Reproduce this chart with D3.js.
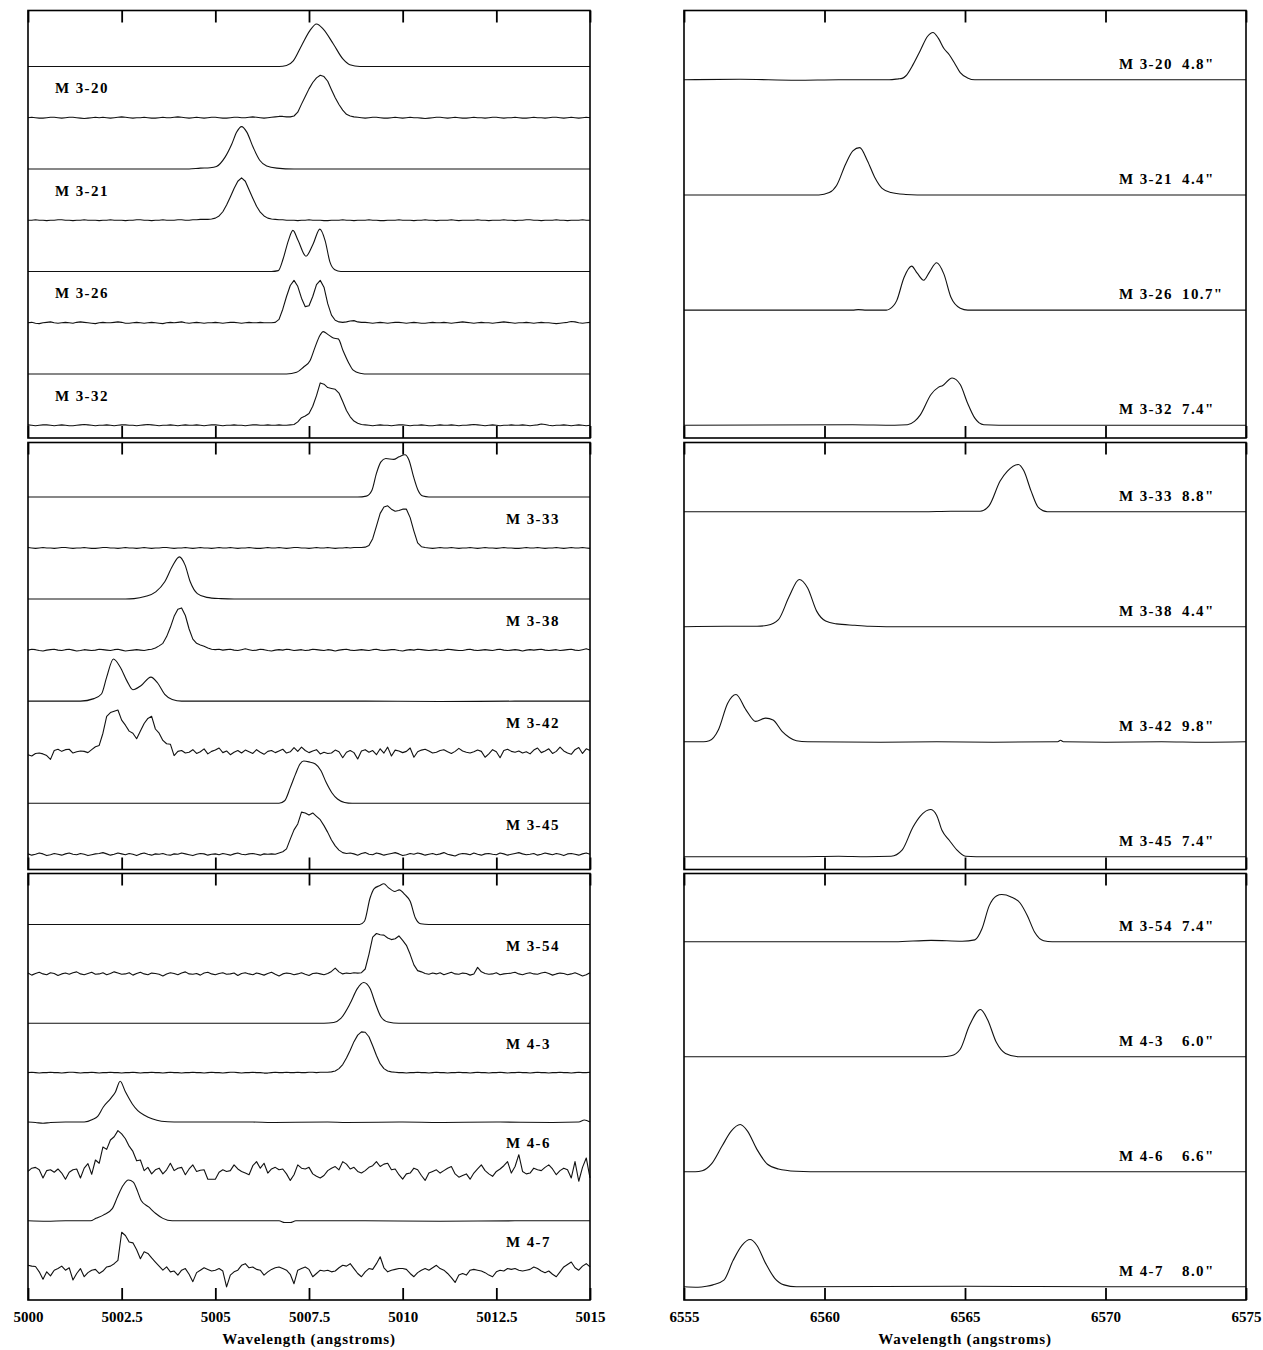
<!DOCTYPE html>
<html>
<head>
<meta charset="utf-8">
<script src="https://cdn.jsdelivr.net/npm/d3@7"></script>
<style>
  body { margin: 0; background: #fff; }
  text { font-family: "Liberation Serif", "DejaVu Serif", serif; font-weight: bold; fill: #000; }
</style>
</head>
<body>
<svg id="chart" width="1263" height="1350"></svg>
<script>
// [O III] 5007 window: observed spectra sampled every 0.1 A from 5000 A.
// Flux is in percent of the line peak; fits are given as [wavelength, flux] knots.
var o3Start = 5000, o3Grid = 0.1;
var o3Ticks = [5000, 5002.5, 5005, 5007.5, 5010, 5012.5, 5015];
var haTicks = [6555, 6560, 6565, 6570, 6575];

var names = ["M 3-20", "M 3-21", "M 3-26", "M 3-32", "M 3-33", "M 3-38",
  "M 3-42", "M 3-45", "M 3-54", "M 4-3", "M 4-6", "M 4-7"];
var sizes = ['4.8"', '4.4"', '10.7"', '7.4"', '8.8"', '4.4"',
  '9.8"', '7.4"', '7.4"', '6.0"', '6.6"', '8.0"'];

// ---- [O III] fitted profiles ----
var m320_o3_fit = [[5000,0],[5006.7,0],[5006.9,2],[5007.08,13],[5007.3,49],[5007.52,84],[5007.7,100],[5007.88,88],[5008.15,53],[5008.41,17],[5008.59,4],[5008.86,0],[5015,0]];
var m321_o3_fit = [[5000,0],[5004.3,0],[5004.6,2],[5004.86,3],[5005.03,6],[5005.26,28],[5005.44,59],[5005.57,87],[5005.7,100],[5005.84,87],[5006.01,51],[5006.19,20],[5006.37,7],[5006.64,2],[5007.1,0],[5015,0]];
var m326_o3_fit = [[5000,0],[5006.5,0],[5006.68,2],[5006.81,30],[5006.95,73],[5007.07,97],[5007.21,73],[5007.42,36],[5007.61,65],[5007.79,100],[5007.93,73],[5008.06,22],[5008.19,4],[5008.35,0],[5015,0]];
var m332_o3_fit = [[5000,0],[5006.9,0],[5007.17,4],[5007.35,16],[5007.53,32],[5007.66,63],[5007.79,91],[5007.88,100],[5008.01,93],[5008.15,85],[5008.28,83],[5008.41,55],[5008.55,28],[5008.68,9],[5008.86,2],[5009.1,0],[5015,0]];
var m333_o3_fit = [[5000,0],[5008.8,0],[5009.03,2],[5009.18,16],[5009.3,56],[5009.42,83],[5009.55,91],[5009.76,89],[5009.9,95],[5010.06,100],[5010.17,87],[5010.29,48],[5010.41,16],[5010.54,2],[5010.7,0],[5015,0]];
var m338_o3_fit = [[5000,0],[5002.6,0],[5002.83,1],[5003.12,6],[5003.41,17],[5003.65,41],[5003.85,77],[5004.04,100],[5004.19,81],[5004.33,41],[5004.52,13],[5004.77,4],[5005.15,1],[5005.5,0],[5015,0]];
var m342_o3_fit = [[5000,0],[5001.4,0],[5001.76,6],[5001.96,17],[5002.1,57],[5002.28,100],[5002.46,81],[5002.64,48],[5002.8,27],[5003.02,37],[5003.28,57],[5003.46,43],[5003.65,16],[5003.85,4],[5004.1,0],[5009,0],[5011,-1],[5013,0],[5015,0]];
var m345_o3_fit = [[5000,0],[5006.7,0],[5006.85,6],[5007.0,37],[5007.14,69],[5007.26,93],[5007.36,100],[5007.5,98],[5007.67,93],[5007.82,77],[5007.96,49],[5008.11,25],[5008.26,10],[5008.45,2],[5008.65,0],[5015,0]];
var m354_o3_fit = [[5000,0],[5008.85,0],[5008.98,8],[5009.13,65],[5009.24,88],[5009.38,95],[5009.5,100],[5009.61,91],[5009.79,81],[5009.91,85],[5010.06,73],[5010.2,57],[5010.34,16],[5010.48,2],[5010.7,0],[5015,0]];
var m43_o3_fit = [[5000,0],[5007.9,0],[5008.16,2],[5008.35,12],[5008.6,49],[5008.79,85],[5008.96,100],[5009.13,85],[5009.27,49],[5009.42,16],[5009.61,3],[5009.9,0],[5015,0]];
var m46_o3_fit = [[5000,0],[5000.2,-1],[5000.4,-3],[5000.6,-1],[5001.0,0],[5001.5,0],[5001.72,6],[5001.86,14],[5002.01,37],[5002.2,57],[5002.33,73],[5002.46,100],[5002.6,74],[5002.78,45],[5002.93,28],[5003.12,16],[5003.31,8],[5003.56,2],[5003.9,0],[5006.0,0],[5006.5,-1],[5008.0,0],[5008.5,-1],[5010.0,0],[5011.0,-1],[5012.5,0],[5014.0,-1],[5014.7,0],[5014.85,5],[5015,0]];
var m47_o3_fit = [[5000,0],[5000.5,-1],[5001.0,0],[5001.67,0],[5001.81,6],[5002.01,14],[5002.25,30],[5002.39,59],[5002.54,87],[5002.68,100],[5002.81,95],[5002.93,71],[5003.02,50],[5003.22,34],[5003.41,18],[5003.6,6],[5003.85,0],[5006.7,0],[5006.85,-4],[5007.0,-4],[5007.15,0],[5009.0,0],[5011.0,-1],[5013.0,0],[5015,0]];

// ---- [O III] observed spectra (151 samples each) ----
var m320_o3_obs = [
  0,1,0,-1,-1,0,1,1,0,-1, 0,1,1,0,-1,-2,-1,0,1,0, 1,0,-1,0,1,2,1,0,-1,0,
  0,1,0,-1,-1,0,1,0,0,1, 2,1,0,-1,0,1,0,-1,0,1, 1,0,-1,-1,0,1,1,0,0,1,
  2,1,0,-1,0,1,2,3,3,2, 2,4,13,32,50,68,83,94,100,97, 86,66,47,31,18,8,4,2,1,0,
  -1,0,1,1,0,-1,-1,0,1,0, -1,0,1,0,0,-1,-2,-1,0,1, 1,0,-1,0,1,0,-1,-1,0,1,
  0,0,-1,0,1,1,0,-1,0,0, 1,0,-1,-1,0,1,0,0,-1,0, 1,1,0,-1,0,1,0,-1,0,1, 0];
var m321_o3_obs = [
  0,0,1,0,0,-1,0,0,1,1, 0,0,-1,0,0,1,0,0,0,-1, 0,0,1,0,0,0,-1,0,0,1,
  1,0,0,-1,0,0,1,0,0,0, 1,1,0,0,1,1,2,2,2,3, 5,10,20,36,55,75,92,100,92,72,
  52,33,19,10,5,3,2,1,1,0, 0,0,-1,0,0,1,0,0,0,-1, -1,0,0,0,1,0,0,-1,0,0,
  0,1,0,0,-1,-1,0,0,0,1, 0,0,0,-1,0,0,1,0,0,-1, 0,0,0,1,0,-1,0,0,0,0,
  1,0,0,-1,0,0,0,1,0,0, -1,0,0,1,1,0,0,-1,0,0, 0,1,0,0,-1,0,0,0,1,0, 0];
var m326_o3_obs = [
  0,1,-1,-2,0,1,2,0,-1,0, 1,0,-1,1,2,1,0,-1,-2,0, 1,0,0,1,2,1,-1,-1,0,1,
  0,-1,0,1,0,-1,-2,0,1,0, 1,2,0,-1,0,1,0,-1,0,0, 1,0,-1,0,1,1,0,-1,0,1,
  0,0,1,0,0,0,1,8,32,62, 88,100,86,58,38,40,62,90,100,84, 45,18,6,2,1,2,4,5,2,1,
  1,0,-1,0,1,0,-1,0,1,1, 0,-1,0,1,0,-1,-1,0,1,0, 0,1,0,-1,0,1,2,1,0,-1,
  0,1,0,0,-1,0,1,2,1,0, -1,0,0,1,0,-1,0,1,0,0, -1,-2,-1,0,1,3,2,0,-1,0, 1];
var m332_o3_obs = [
  1,0,-1,0,1,1,0,-1,0,1, 0,-1,-1,0,1,2,1,0,-1,0, 0,1,0,-1,0,1,1,0,0,-1,
  0,1,2,1,0,-1,0,0,1,0, -1,0,1,0,0,1,0,-1,0,1, 1,0,-1,0,0,1,0,0,-1,0,
  1,1,0,0,1,0,0,1,0,0, 1,2,8,18,22,28,45,70,100,97, 89,87,85,76,56,35,20,10,5,2,
  1,0,-1,0,1,0,0,-1,0,1, 1,0,-1,0,0,1,0,-1,-1,0, 1,0,0,1,0,-1,0,0,1,2,
  1,0,-1,0,1,0,-1,0,0,1, 0,0,1,0,-1,0,1,3,2,0, -1,0,0,1,0,-1,0,1,0,-1, 0];
var m333_o3_obs = [
  1,0,-1,0,1,0,0,-1,0,1, 1,0,-1,0,0,1,0,-1,-1,0, 1,1,0,0,-1,0,1,0,0,-1,
  0,1,0,-1,0,0,1,1,0,-1, 0,0,1,0,-1,0,1,0,0,-1, 0,1,0,0,1,0,-1,0,0,1,
  0,-1,-1,0,1,0,0,1,0,-1, 0,1,1,0,0,-1,0,1,0,0, 1,0,-1,0,0,1,0,1,1,1,
  2,6,22,52,82,97,100,92,87,89, 92,92,72,40,12,3,1,0,-1,0, 1,0,0,1,0,-1,0,0,1,0,
  -1,0,1,0,0,-1,0,1,0,0, -1,-1,0,1,0,0,1,0,-1,0, 0,1,0,-1,0,1,0,0,1,0, -1];
var m338_o3_obs = [
  0,2,1,-1,-2,0,1,2,0,-1, 1,2,0,-2,-1,1,0,-1,0,2, 1,0,-1,1,2,0,-2,-1,0,1,
  0,-1,1,2,5,10,16,32,54,80, 97,100,82,50,26,16,12,9,5,2, 1,2,0,1,2,0,-1,1,3,1,
  -1,0,2,1,-1,-2,0,1,0,2, 1,-1,0,1,-1,0,2,1,0,-1, 1,0,-2,0,1,2,0,-1,0,1,
  0,-1,1,2,0,-1,0,1,1,-1, -2,0,1,0,2,1,0,-1,0,1, -1,0,2,1,0,-1,-1,1,2,0,
  -1,0,1,0,-1,1,2,0,-1,0, 1,0,-2,0,1,0,1,2,0,-1, 0,1,-1,0,1,2,0,-1,1,3, 0];
var m342_o3_obs = [
  -6,-9,-3,-2,-4,-8,-17,4,7,2, 6,7,-2,1,3,2,-1,6,13,16, 45,85,94,97,100,76,64,50,45,32,
  50,68,80,85,55,45,28,20,19,-8, 2,4,-2,0,6,-3,1,8,-4,2, 5,10,-1,3,-6,0,4,-2,5,1,
  -3,6,0,-5,2,4,-1,3,7,-2, 1,11,2,12,4,-1,3,6,-4,0, -3,-2,5,1,-13,0,4,-1,-16,3,
  6,0,4,-6,8,-2,12,-9,5,3, -1,2,10,-12,1,5,7,3,-2,0, 4,6,1,-3,2,9,3,0,-2,1,
  5,2,-12,-4,6,1,-13,4,7,2, 0,3,-2,1,-4,5,10,-1,3,8, -3,2,12,3,-2,-5,6,11,-3,8, 4];
var m345_o3_obs = [
  1,-2,0,3,1,-3,-1,2,0,-2, 1,3,0,-1,2,0,-3,-1,1,2, 4,1,-2,0,3,1,-1,2,0,-3,
  1,3,0,-2,1,0,2,-1,-2,1, 0,3,1,-1,-3,0,2,1,-2,0, 1,-1,2,0,-2,1,3,0,-1,1,
  2,0,-2,1,0,1,0,3,6,13, 36,58,72,100,98,93,98,90,82,68, 52,34,20,10,4,2,3,1,-2,2,
  4,0,-1,3,1,-2,0,2,4,1, -3,-1,2,0,3,1,-2,0,2,-1, 1,4,0,-2,-4,0,2,1,-1,3,
  0,-2,1,2,0,-1,3,1,-2,0, 2,4,1,-1,0,2,-2,0,3,1, -1,2,0,-3,1,2,0,-2,1,3, 0];
var m354_o3_obs = [
  2,-3,1,4,0,-2,3,1,-4,0, 2,-1,3,5,0,-2,1,4,-1,0, 3,-2,1,5,2,-1,0,3,-3,1,
  4,0,-2,2,1,-1,-5,0,3,1, -2,2,5,0,-1,1,-3,2,4,0, -2,1,3,-1,0,2,-4,1,3,0,
  -2,2,0,-3,1,4,-1,-5,0,2, 1,-2,0,3,-1,-4,1,2,0,-2, 1,6,14,5,0,2,1,3,2,3,
  12,48,90,99,96,95,88,84,86,93, 82,70,48,22,8,5,1,-1,2,0, 3,-2,1,4,0,-1,2,1,-3,0,
  16,5,1,-1,0,3,-2,0,1,2, 4,0,-2,1,3,0,-1,2,4,1, -3,0,2,1,-2,0,3,-1,-5,-2, 3];
var m43_o3_obs = [
  0,1,0,-1,0,0,1,0,0,-1, 0,1,1,0,-1,0,0,1,0,-1, 0,0,1,0,0,-1,0,0,1,0,
  -1,0,0,1,0,0,-1,0,1,0, 0,-1,0,0,1,0,0,-1,0,1, 0,0,-1,0,1,1,0,-1,0,0,
  1,0,0,-1,-1,0,1,0,0,1, 0,0,1,0,0,1,1,0,1,1, 1,2,4,10,20,36,55,76,92,100,
  99,88,66,42,22,10,4,2,1,0, 0,-1,0,0,1,0,0,-1,0,1, 0,0,-1,0,0,1,0,0,-1,0,
  1,0,0,-1,0,0,1,0,-1,0, 0,1,0,0,-1,0,1,0,0,-1, 0,0,1,0,0,-1,0,1,0,0, 1];
var m46_o3_obs = [
  0,8,10,4,-16,2,4,-2,6,-4, -19,-2,4,6,-16,8,19,-7,28,20, 60,54,77,85,100,92,80,62,49,26,
  28,2,10,-6,4,8,-6,4,20,2, 8,10,-8,6,16,0,3,4,-19,-19, -19,-2,4,0,2,16,6,0,-4,-8,
  14,24,8,20,-4,6,10,4,6,-6, -22,-8,16,8,6,10,-6,-12,-16,-10, 2,8,12,4,24,18,6,10,0,-4,
  2,10,14,24,12,18,20,4,6,-8, -19,-6,-4,8,4,-10,-22,-4,0,4, -4,2,8,12,-6,-14,-10,-6,-19,-4,
  6,16,2,-6,-12,0,6,14,24,-4, 12,41,0,-6,-4,8,4,2,10,16, 6,-8,2,8,4,-16,24,-24,10,33, -16];
var m47_o3_obs = [
  12,10,9,-4,-22,-4,-14,0,4,10, 0,6,-24,-8,4,-16,-6,0,2,-8, -2,8,10,16,24,93,85,69,67,50,
  28,45,41,30,20,10,0,8,-4,-2, -12,0,4,-10,-28,-6,0,6,2,-2, 0,4,-2,-41,-12,-4,0,12,16,6,
  8,2,0,-12,-4,2,6,8,4,0, -10,-33,0,4,8,2,-16,-8,0,-2, 0,-4,-2,6,12,10,16,4,-8,-16,
  -4,4,2,16,33,6,-4,0,2,4, 4,2,-8,-16,-6,0,4,0,6,12, 4,0,-8,-18,-30,-12,-8,-12,0,2,
  0,-2,-6,-12,-16,-4,0,-2,4,2, 4,0,-2,0,2,8,4,-2,-6,-2, -10,-16,-4,8,14,20,6,0,10,16, 8];

// ---- H alpha spectra, [wavelength, flux] ----
var m320_ha = [[6555,0],[6557,1],[6559,-1],[6560.5,0],[6562.3,0],[6562.63,2],[6562.76,3],[6562.89,8],[6563.15,32],[6563.41,62],[6563.67,92],[6563.86,100],[6564.05,88],[6564.25,66],[6564.44,53],[6564.63,35],[6564.83,15],[6565.09,4],[6565.35,0],[6575,0]];
var m321_ha = [[6555,0],[6559.8,0],[6560.17,5],[6560.43,20],[6560.75,65],[6561.01,93],[6561.25,100],[6561.53,72],[6561.79,37],[6562.05,14],[6562.37,5],[6562.89,1],[6563.3,0],[6575,0]];
var m326_ha = [[6555,0],[6561.0,0],[6561.2,1],[6561.5,0],[6562.2,0],[6562.31,2],[6562.57,20],[6562.83,69],[6563.1,93],[6563.3,78],[6563.53,63],[6563.75,82],[6563.99,100],[6564.25,76],[6564.5,27],[6564.83,4],[6565.1,0],[6575,0]];
var m332_ha = [[6555,0],[6561,1],[6562.5,0],[6562.95,1],[6563.2,8],[6563.41,22],[6563.79,65],[6564.05,80],[6564.21,84],[6564.54,100],[6564.83,86],[6565.09,47],[6565.35,15],[6565.67,1],[6566.2,0],[6575,0]];
var m333_ha = [[6555,0],[6563.5,0],[6564.5,1],[6565.54,1],[6565.86,13],[6566.25,65],[6566.51,86],[6566.9,100],[6567.09,87],[6567.35,44],[6567.61,9],[6567.93,0],[6575,0]];
var m338_ha = [[6555,0],[6556.5,1],[6557.6,1],[6557.97,3],[6558.36,15],[6558.75,65],[6559.1,100],[6559.4,82],[6559.72,33],[6560.04,12],[6560.43,6],[6561.08,3],[6561.6,1],[6562.2,0],[6575,0]];
var m342_ha = [[6555,0],[6555.7,0],[6555.9,2],[6556.23,26],[6556.55,81],[6556.85,100],[6557.2,68],[6557.55,43],[6557.91,50],[6558.17,46],[6558.49,22],[6558.75,9],[6559.0,2],[6559.4,0],[6562,-1],[6564,0],[6566,-1],[6568.3,0],[6568.4,3],[6568.5,0],[6570,-1],[6572,0],[6573.5,-1],[6575,0]];
var m345_ha = [[6555,0],[6559,0],[6560.5,1],[6561.5,0],[6562.37,1],[6562.76,14],[6563.15,63],[6563.41,86],[6563.77,100],[6563.99,88],[6564.18,56],[6564.44,35],[6564.7,15],[6565.02,1],[6565.4,0],[6575,0]];
var m354_ha = [[6555,0],[6562.5,0],[6563.8,3],[6564.9,1],[6565.35,4],[6565.6,27],[6565.86,76],[6566.12,97],[6566.31,100],[6566.64,95],[6566.96,82],[6567.22,55],[6567.48,20],[6567.8,2],[6568.1,0],[6575,0]];
var m43_ha = [[6555,0],[6564.2,0],[6564.5,2],[6564.83,16],[6565.15,65],[6565.55,100],[6565.8,79],[6566.12,30],[6566.44,7],[6566.9,0],[6575,0]];
var m46_ha = [[6555,0],[6555.4,0],[6555.65,2],[6555.97,16],[6556.36,55],[6556.68,86],[6557.0,100],[6557.26,86],[6557.59,48],[6557.97,16],[6558.36,6],[6559.0,1],[6559.5,0],[6575,0]];
var m47_ha = [[6555,0],[6555.5,-1],[6555.8,1],[6556.03,4],[6556.42,14],[6556.75,56],[6557.07,88],[6557.35,100],[6557.59,88],[6557.91,49],[6558.23,18],[6558.56,4],[6559.0,0],[6565,1],[6570,0],[6575,0]];

var o3Fits = [m320_o3_fit, m321_o3_fit, m326_o3_fit, m332_o3_fit, m333_o3_fit, m338_o3_fit,
  m342_o3_fit, m345_o3_fit, m354_o3_fit, m43_o3_fit, m46_o3_fit, m47_o3_fit];
var o3Obs = [m320_o3_obs, m321_o3_obs, m326_o3_obs, m332_o3_obs, m333_o3_obs, m338_o3_obs,
  m342_o3_obs, m345_o3_obs, m354_o3_obs, m43_o3_obs, m46_o3_obs, m47_o3_obs];
var haSpectra = [m320_ha, m321_ha, m326_ha, m332_ha, m333_ha, m338_ha,
  m342_ha, m345_ha, m354_ha, m43_ha, m46_ha, m47_ha];

// layout
var rowsY = [[10.5, 438], [442.5, 869.5], [873.5, 1300]];
var leftX = [28, 590], rightX = [684, 1246];
var leftDomains = [[-30, 979], [-36, 976], [-73, 972]];
var rightDomains = [[-27, 877], [-27, 877], [-28, 875]];
var o3Offset = 121, haOffset = 243.5;
var leftLabelX = [55, 506, 506];

var svg = d3.select("#chart");

rowsY.forEach(function (rowY, r) {
  // ---- left: [O III] ----
  var x = d3.scaleLinear().domain([5000, 5015]).range(leftX);
  var y = d3.scaleLinear().domain(leftDomains[r]).range([rowY[1], rowY[0]]);
  var g = svg.append("g");

  for (var j = 0; j < 4; j++) {
    var k = r * 4 + j;
    var fitOff = (7 - 2 * j) * o3Offset;
    var obsOff = (6 - 2 * j) * o3Offset;

    var fitLine = d3.line()
      .x((d) => x(d[0]))
      .y((d) => y(d[1] + fitOff))
      .curve(d3.curveMonotoneX);
    g.append("path").datum(o3Fits[k]).attr("class", "spec").attr("d", fitLine);

    var obsLine = d3.line()
      .x((d, i) => x(o3Start + i * o3Grid))
      .y((d) => y(d + obsOff));
    g.append("path").datum(o3Obs[k]).attr("class", "spec").attr("d", obsLine);

    g.append("text")
      .attr("class", "lbl")
      .attr("x", leftLabelX[r])
      .attr("y", y(obsOff + 70))
      .text(names[k]);
  }
  drawFrame(x, rowY, o3Ticks, r === 2);

  // ---- right: H alpha ----
  var xr = d3.scaleLinear().domain([6555, 6575]).range(rightX);
  var yr = d3.scaleLinear().domain(rightDomains[r]).range([rowY[1], rowY[0]]);
  var gr = svg.append("g");

  for (var j2 = 0; j2 < 4; j2++) {
    var k2 = r * 4 + j2;
    var off = (3 - j2) * haOffset;
    var haLine = d3.line()
      .x((d) => xr(d[0]))
      .y((d) => yr(d[1] + off))
      .curve(d3.curveMonotoneX);
    gr.append("path").datum(haSpectra[k2]).attr("class", "spec").attr("d", haLine);

    gr.append("text").attr("class", "lbl")
      .attr("x", 1119).attr("y", yr(off + 34))
      .text(names[k2]);
    gr.append("text").attr("class", "lbl")
      .attr("x", 1182).attr("y", yr(off + 34))
      .text(sizes[k2]);
  }
  drawFrame(xr, rowY, haTicks, r === 2);
});

svg.selectAll(".spec")
  .attr("fill", "none")
  .attr("stroke", "#111")
  .attr("stroke-width", 1.1)
  .attr("stroke-linejoin", "round");

svg.selectAll(".lbl")
  .attr("dy", "0.35em")
  .style("font-size", "15px")
  .style("letter-spacing", "1.4px");

// axis titles
[leftX, rightX].forEach(function (xr) {
  svg.append("text")
    .attr("x", (xr[0] + xr[1]) / 2)
    .attr("y", 1339)
    .attr("dy", "0.35em")
    .attr("text-anchor", "middle")
    .style("font-size", "15px")
    .style("letter-spacing", "0.8px")
    .text("Wavelength (angstroms)");
});

function drawFrame(x, rowY, ticks, withLabels) {
  svg.append("rect")
    .attr("x", x.range()[0])
    .attr("y", rowY[0])
    .attr("width", x.range()[1] - x.range()[0])
    .attr("height", rowY[1] - rowY[0])
    .attr("fill", "none")
    .attr("stroke", "#000")
    .attr("stroke-width", 1.6);

  var top = svg.append("g")
    .attr("transform", "translate(0," + rowY[0] + ")")
    .call(d3.axisTop(x).tickValues(ticks).tickSize(-12).tickFormat(""));
  var bottom = svg.append("g")
    .attr("transform", "translate(0," + rowY[1] + ")")
    .call(d3.axisBottom(x).tickValues(ticks).tickSize(-12).tickPadding(11)
      .tickFormat(withLabels ? (d) => d : ""));

  [top, bottom].forEach(function (a) {
    a.select(".domain").remove();
    a.selectAll(".tick line").attr("stroke", "#000").attr("stroke-width", 1.8);
    a.selectAll(".tick text")
      .style("font-family", '"Liberation Serif", serif')
      .style("font-weight", "bold")
      .style("font-size", "15px");
  });
}
</script>
</body>
</html>
